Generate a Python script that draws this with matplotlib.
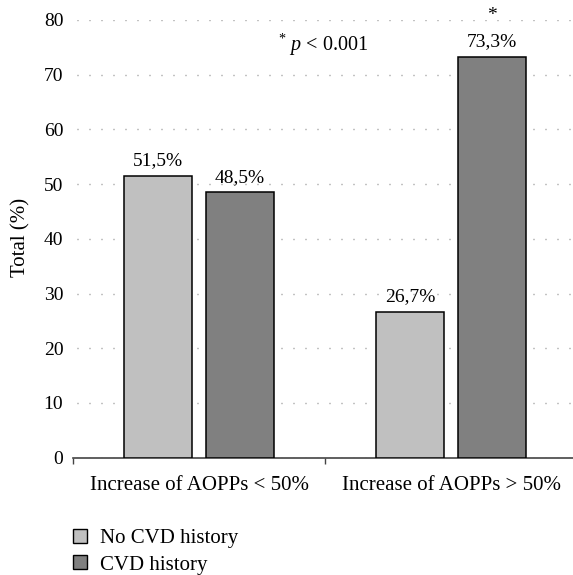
import matplotlib
matplotlib.use("Agg")
import matplotlib.pyplot as plt
import numpy as np
from matplotlib.patches import Patch

plt.rcParams['font.family'] = ['Liberation Serif', 'DejaVu Serif']
plt.rcParams['mathtext.fontset'] = 'custom'
plt.rcParams['mathtext.rm'] = 'Liberation Serif'
plt.rcParams['mathtext.it'] = 'Liberation Serif:italic'

categories = ["Increase of AOPPs < 50%", "Increase of AOPPs > 50%"]
series_names = ["No CVD history", "CVD history"]
no_cvd = [51.5, 26.7]
cvd = [48.5, 73.3]
no_cvd_labels = ["51,5%", "26,7%"]
cvd_labels = ["48,5%", "73,3%"]
yticks = [0, 10, 20, 30, 40, 50, 60, 70, 80]

W, H = 573, 575
fig = plt.figure(figsize=(W / 100, H / 100), dpi=100)
x0, unit = 73, 252
ax_w = 2 * unit
ax = fig.add_axes([x0 / W, 1 - 457.7 / H, ax_w / W, (457.7 - 20) / H])

x = np.arange(len(categories))
bw = 0.272
off = 0.162
c_light = "#c0c0c0"
c_dark = "#808080"

ax.bar(x - off, no_cvd, bw, color=c_light, edgecolor="black", linewidth=1.1, zorder=3)
ax.bar(x + off, cvd, bw, color=c_dark, edgecolor="black", linewidth=1.1, zorder=3)

fs_num = 14
fs_txt = 15
for xi, v, lab in zip(x - off, no_cvd, no_cvd_labels):
    ax.text(xi, v + 1.2, lab, ha="center", va="bottom", fontsize=fs_num, zorder=4)
for xi, v, lab in zip(x + off, cvd, cvd_labels):
    ax.text(xi, v + 1.2, lab, ha="center", va="bottom", fontsize=fs_num, zorder=4)
# significance star
ax.text(1 + off, cvd[1] + 5.9, "*", ha="center", va="bottom", fontsize=fs_num, zorder=4)
ax.text(0.5 + (323 - 325) / unit, 75.4, r"$^{*}$ $\it{p}$ < 0.001", ha="center", va="center",
        fontsize=14.5, zorder=4)

ax.set_xlim(-0.5, 1.5)
ax.set_ylim(0, 80)
ax.set_yticks(yticks)
ax.set_yticklabels([str(t) for t in yticks], fontsize=fs_num)
ax.tick_params(axis="y", length=0, pad=7)

ax.set_xticks([-0.5, 0.5])
ax.set_xticklabels(["", ""])
ax.tick_params(axis="x", which="major", length=4, width=1, color="#444444", direction="out")
ax.set_xticks(x, minor=True)
ax.set_xticklabels(categories, minor=True, fontsize=fs_txt)
ax.tick_params(axis="x", which="minor", length=0, pad=13.5)

for s in ["top", "right", "left"]:
    ax.spines[s].set_visible(False)
ax.spines["bottom"].set_color("#444444")
ax.spines["bottom"].set_linewidth(1.2)

ax.yaxis.grid(True, color="#888888", linestyle=(5.76, (0.72, 7.92)), linewidth=1.0, zorder=0)
ax.set_axisbelow(True)

fig.text(21 / W, 1 - 237 / H, "Total (%)", rotation=90, ha="center", va="center", fontsize=fs_txt)

handles = [Patch(facecolor=c_light, edgecolor="black", linewidth=1.0),
           Patch(facecolor=c_dark, edgecolor="black", linewidth=1.0)]
fig.legend(handles, series_names, loc="upper left", bbox_to_anchor=(73 / W, 1 - 529 / H),
           frameon=False, fontsize=fs_txt, handlelength=0.67, handleheight=0.67,
           handletextpad=0.62, labelspacing=0.33, borderaxespad=0, borderpad=0)

fig.savefig("out.png", dpi=100)
